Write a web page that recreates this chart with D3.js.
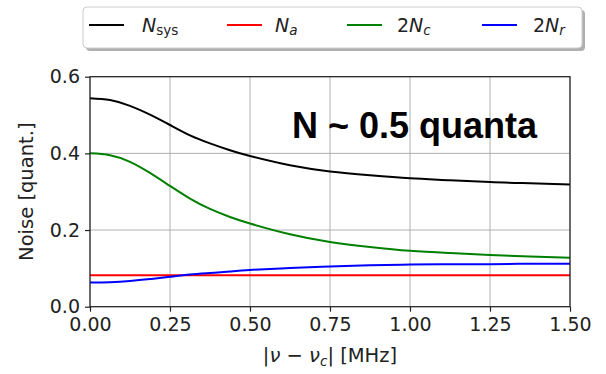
<!DOCTYPE html>
<html><head><meta charset="utf-8">
<script src="https://cdn.jsdelivr.net/npm/d3@7"></script>
<style>body{margin:0;background:#fff}svg{display:block}text{font-family:"DejaVu Sans",sans-serif}</style>
</head><body>
<script>
const freq = [0, 0.0625, 0.125, 0.1875, 0.25, 0.3125, 0.375, 0.4375, 0.5, 0.625, 0.75, 0.875, 1.0, 1.125, 1.25, 1.375, 1.5];
const nSys = [0.544, 0.539, 0.524, 0.501, 0.474, 0.447, 0.426, 0.408, 0.393, 0.369, 0.353, 0.343, 0.335, 0.330, 0.325, 0.322, 0.319];
const nA   = [0.082, 0.082, 0.082, 0.082, 0.082, 0.082, 0.082, 0.082, 0.082, 0.082, 0.082, 0.082, 0.082, 0.082, 0.082, 0.082, 0.082];
const n2C  = [0.400, 0.395, 0.378, 0.349, 0.315, 0.282, 0.255, 0.234, 0.217, 0.189, 0.169, 0.156, 0.146, 0.140, 0.135, 0.131, 0.128];
const n2R  = [0.063, 0.064, 0.067, 0.072, 0.078, 0.084, 0.088, 0.092, 0.096, 0.101, 0.105, 0.108, 0.110, 0.111, 0.111, 0.112, 0.112];
const xTicks = [0, 0.25, 0.5, 0.75, 1.0, 1.25, 1.5];
const yTicks = [0, 0.2, 0.4, 0.6];
const series = [
  {key:"sys", vals:nSys, color:"#000000"},
  {key:"a", vals:nA, color:"#ff0000"},
  {key:"c", vals:n2C, color:"#008000"},
  {key:"r", vals:n2R, color:"#0000ff"}
];

const W = 606, H = 374;
const svg = d3.select("body").append("svg").attr("width", W).attr("height", H);
const x = d3.scaleLinear().domain([0, 1.5]).range([90, 570]);
const y = d3.scaleLinear().domain([0, 0.6]).range([306.7, 76.7]);

// grid
const g = svg.append("g");
g.selectAll(".gx").data(xTicks).enter().append("line")
  .attr("x1", d => x(d)).attr("x2", d => x(d)).attr("y1", y(0)).attr("y2", y(0.6))
  .attr("stroke", "#b0b0b0").attr("stroke-width", 1);
g.selectAll(".gy").data(yTicks).enter().append("line")
  .attr("y1", d => y(d)).attr("y2", d => y(d)).attr("x1", x(0)).attr("x2", x(1.5))
  .attr("stroke", "#b0b0b0").attr("stroke-width", 1);

// annotation
svg.append("text").attr("x", 292).attr("y", 138)
  .style("font-family", "'Liberation Sans', Arial, sans-serif").style("font-weight", "bold")
  .style("font-size", "36px").attr("fill", "#000").text("N ~ 0.5 quanta");

// lines
const line = d3.line().curve(d3.curveNatural);
series.forEach(s => {
  svg.append("path")
    .attr("d", line(freq.map((f, i) => [x(f), y(s.vals[i])])))
    .attr("fill", "none").attr("stroke", s.color).attr("stroke-width", 2);
});

// axes
const xAxis = d3.axisBottom(x).tickValues(xTicks).tickFormat(d3.format(".2f")).tickSize(5).tickSizeOuter(0).tickPadding(6);
const yAxis = d3.axisLeft(y).tickValues(yTicks).tickFormat(d3.format(".1f")).tickSize(5).tickSizeOuter(0).tickPadding(5);
const gx = svg.append("g").attr("transform", `translate(0,${y(0)})`).call(xAxis);
const gy = svg.append("g").attr("transform", `translate(${x(0)},0)`).call(yAxis);
[gx, gy].forEach(a => {
  a.select(".domain").remove();
  a.selectAll("line").attr("stroke", "#222").attr("stroke-width", 1.2);
  a.selectAll("text").style("font-family", "'DejaVu Sans', sans-serif").style("font-size", "19px").attr("fill", "#222");
});
// frame
svg.append("rect").attr("x", x(0)).attr("y", y(0.6)).attr("width", x(1.5) - x(0)).attr("height", y(0) - y(0.6))
  .attr("fill", "none").attr("stroke", "#222").attr("stroke-width", 1.2);

// axis labels
svg.append("text").attr("x", x(0.75)).attr("y", 362).attr("text-anchor", "middle")
  .style("font-size", "19.5px").attr("fill", "#222")
  .html('|<tspan font-style="italic">ν</tspan> − <tspan font-style="italic">ν</tspan><tspan font-style="italic" font-size="13.5px" dy="4">c</tspan><tspan dy="-4">| [MHz]</tspan>');
svg.append("text").attr("transform", `translate(33,${(y(0) + y(0.6)) / 2}) rotate(-90)`)
  .attr("text-anchor", "middle").style("font-size", "19.5px").attr("fill", "#222").text("Noise [quant.]");

// legend
const lg = svg.append("g");
lg.append("rect").attr("x", 86).attr("y", 10).attr("width", 499).attr("height", 41).attr("rx", 4)
  .attr("fill", "#b0b0b0");
lg.append("rect").attr("x", 83).attr("y", 7).attr("width", 499).attr("height", 41).attr("rx", 4)
  .attr("fill", "#fff").attr("stroke", "#cccccc").attr("stroke-width", 1);
const legendItems = [
  {x1: 89, tx: 142, color: "#000", html: '<tspan font-style="italic">N</tspan><tspan font-size="13.5px" dy="3">sys</tspan>'},
  {x1: 227, tx: 275, color: "#ff0000", html: '<tspan font-style="italic">N</tspan><tspan font-style="italic" font-size="13.5px" dy="3">a</tspan>'},
  {x1: 347, tx: 397, color: "#008000", html: '2<tspan font-style="italic">N</tspan><tspan font-style="italic" font-size="13.5px" dy="3">c</tspan>'},
  {x1: 482, tx: 533, color: "#0000ff", html: '2<tspan font-style="italic">N</tspan><tspan font-style="italic" font-size="13.5px" dy="3">r</tspan>'}
];
legendItems.forEach(d => {
  lg.append("line").attr("x1", d.x1).attr("x2", d.x1 + 35).attr("y1", 25).attr("y2", 25)
    .attr("stroke", d.color).attr("stroke-width", 2);
  lg.append("text").attr("x", d.tx).attr("y", 32).style("font-size", "19px").attr("fill", "#222").html(d.html);
});
</script>
</body></html>
